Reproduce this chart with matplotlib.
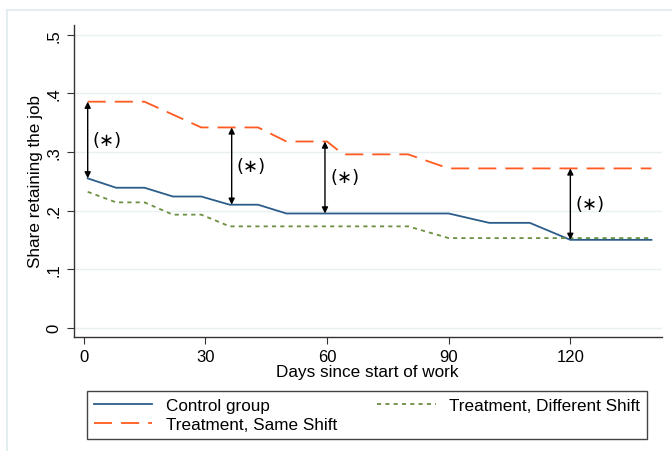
import numpy as np
import matplotlib
matplotlib.use("Agg")
import matplotlib.pyplot as plt
from matplotlib.patches import Rectangle

plt.rcParams['font.family'] = ['Liberation Sans', 'DejaVu Sans']

# retention curves (day, share)
control_days = [1, 8, 15, 22, 29, 36, 43, 50, 90, 100, 110, 120, 140]
control = [0.255, 0.239, 0.239, 0.224, 0.224, 0.210, 0.210, 0.195, 0.195, 0.179, 0.179, 0.150, 0.150]

same_days = [1, 15, 29, 43, 50, 60, 64, 80, 90, 140]
same_shift = [0.386, 0.386, 0.342, 0.342, 0.318, 0.318, 0.296, 0.296, 0.272, 0.272]

diff_days = [1, 8, 15, 22, 29, 36, 80, 90, 140]
diff_shift = [0.232, 0.214, 0.214, 0.193, 0.193, 0.173, 0.173, 0.153, 0.153]

# significance arrows between same-shift and control
arrow_days = [1, 36.5, 59.5, 120]
star_label = "(\u2217)"

xticks = [0, 30, 60, 90, 120]
yticks = [0, 0.1, 0.2, 0.3, 0.4, 0.5]
ytick_labels = ["0", ".1", ".2", ".3", ".4", ".5"]

blue = "#2c5d8a"
orange = "#ff5a1f"
green = "#6a9040"

fig = plt.figure(figsize=(6.72, 4.52), dpi=100)
ax = fig.add_axes([73.5 / 672, 1 - 338 / 452, (662 - 73.5) / 672, (338 - 26) / 452])

# light outer frame like the stata graph region (only top/left visible)
fig.patches.append(Rectangle((6.5 / 672, -0.2), 2, 1.2 - 10.5 / 452, transform=fig.transFigure,
                             fill=False, edgecolor="#e4edf0", lw=1.5))

for y in yticks:
    ax.axhline(y, color="#e8f0f3", lw=1.0, zorder=0)

l1, = ax.plot(control_days, control, color=blue, lw=1.3, label="Control group")
l2, = ax.plot(same_days, same_shift, color=orange, lw=1.3, dashes=(10, 5), label="Treatment, Same Shift")
l3, = ax.plot(diff_days, diff_shift, color=green, lw=1.3, dashes=(2.3, 2.3), label="Treatment, Different Shift")

tops = np.interp(arrow_days, same_days, same_shift)
bottoms = np.interp(arrow_days, control_days, control)
for d, t, b in zip(arrow_days, tops, bottoms):
    ax.annotate("", xy=(d, b), xytext=(d, t),
                arrowprops=dict(arrowstyle="<|-|>", color="black", lw=1.0,
                                mutation_scale=9, shrinkA=0, shrinkB=0))
    ax.text(d + 1.3, (t + b) / 2, star_label, fontsize=13, family="DejaVu Sans",
            va="center", ha="left")

ax.set_xlim(-2.5, 142.6)
ax.set_ylim(-0.016, 0.517)
ax.set_xticks(xticks)
ax.set_yticks(yticks)
ax.set_yticklabels(ytick_labels)
ax.tick_params(axis="y", labelrotation=90, labelsize=12, length=5, color="#333333")
ax.tick_params(axis="x", labelsize=12, length=5, color="#333333")
for lab in ax.get_yticklabels():
    lab.set_va("center")

for s in ["top", "right"]:
    ax.spines[s].set_visible(False)
for s in ["left", "bottom"]:
    ax.spines[s].set_color("#333333")
    ax.spines[s].set_linewidth(1.0)

ax.set_xlabel("Days since start of work", fontsize=12.3, labelpad=0)
ax.set_ylabel("Share retaining the job", fontsize=12.3, labelpad=3)

fig.legend(handles=[l1, l2, l3], ncol=2, loc="lower left", mode="expand",
           bbox_to_anchor=(87 / 672, 12 / 452, 560 / 672, 50 / 452), borderaxespad=0,
           fancybox=False, edgecolor="#444444", framealpha=1, fontsize=12.3,
           handlelength=3.4, handletextpad=0.8, columnspacing=3, labelspacing=0.25)

plt.savefig("out.png", dpi=100)
